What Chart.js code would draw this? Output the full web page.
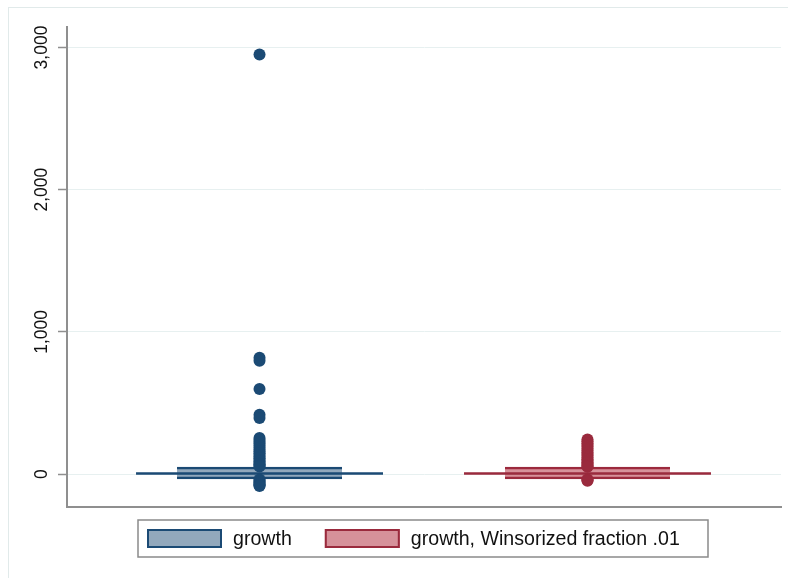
<!DOCTYPE html>
<html>
<head>
<meta charset="utf-8">
<script src="https://cdn.jsdelivr.net/npm/chart.js@4/dist/chart.umd.min.js"></script>
<style>
  html, body { margin: 0; padding: 0; background: #ffffff; overflow: hidden; }
  #wrap { position: relative; width: 788px; height: 578px; }
  #frame { position: absolute; left: 8px; top: 7px; width: 800px; height: 600px;
           border: 1px solid #e1eaea; box-sizing: border-box; }
  canvas { position: absolute; left: 0; top: 0; }
</style>
</head>
<body>
<div id="wrap">
  <div id="frame"></div>
  <canvas id="chart" width="788" height="578"></canvas>
</div>
<script>
// Series names, one box per variable
const categories = ['growth', 'growth, Winsorized fraction .01'];
// Box statistics per variable (quartiles, median, adjacent values)
const q1Values = [-34, -34];
const medianValues = [5, 5];
const q3Values = [50, 50];
const lowerAdjacent = [-36, -36];
const upperAdjacent = [52, 50];
// Outside values per variable
const outliersGrowth = [2951, 818, 797, 598, 418, 394, 254, 240, 226, 213, 199, 186, 172, 160,
  147, 135, 123, 111, 100, 89, 79, 69, 60, 53, -37, -46, -55, -63, -71, -78, -84];
const outliersWinsorized = [244, 231, 218, 205, 192, 179, 166, 153, 141, 129, 117, 105, 94,
  84, 74, 65, 57, 52, -37, -42, -46];
// Y axis tick values
const yTickValues = [0, 1000, 2000, 3000];

const outlierLists = [outliersGrowth, outliersWinsorized];
const lineColors = ['#1b4a74', '#9a2a3d'];
const fillColors = ['rgba(27,74,116,0.48)', 'rgba(176,44,62,0.52)'];
const medianHalfSpan = 0.3765;   // median line reaches past the box
const axisGray = '#8f8f8f';

const datasets = [];
categories.forEach((name, i) => {
  const pos = i + 1;
  datasets.push({
    type: 'scatter', label: name + ' outside values', order: 0,
    data: outlierLists[i].map(v => ({ x: pos, y: v })),
    pointRadius: 6, pointHoverRadius: 6, pointBorderWidth: 0,
    backgroundColor: lineColors[i], borderColor: lineColors[i]
  });
  datasets.push({
    type: 'line', label: name + ' median', order: 1,
    data: [{ x: pos - medianHalfSpan, y: medianValues[i] }, { x: pos + medianHalfSpan, y: medianValues[i] }],
    borderColor: lineColors[i], borderWidth: 2.5, pointRadius: 0, fill: false
  });
  datasets.push({
    type: 'line', label: name + ' upper whisker', order: 2,
    data: [{ x: pos, y: q3Values[i] }, { x: pos, y: upperAdjacent[i] }],
    borderColor: lineColors[i], borderWidth: 1.5, pointRadius: 0, fill: false
  });
  datasets.push({
    type: 'line', label: name + ' lower whisker', order: 2,
    data: [{ x: pos, y: q1Values[i] }, { x: pos, y: lowerAdjacent[i] }],
    borderColor: lineColors[i], borderWidth: 1.5, pointRadius: 0, fill: false
  });
  datasets.push({
    type: 'bar', label: name, order: 10, isBox: true,
    data: [{ x: pos, y: [q1Values[i], q3Values[i]] }],
    backgroundColor: fillColors[i], borderColor: lineColors[i],
    borderWidth: { top: 2, bottom: 2, left: 0, right: 0 },
    borderSkipped: false, barThickness: 165, grouped: false
  });
});

// Framed legend below the plot, built from the box datasets
const framedLegend = {
  id: 'framedLegend',
  afterDraw(chart) {
    const ctx = chart.ctx;
    const boxes = chart.data.datasets.filter(d => d.isBox);
    const box = { left: 138, top: 520, width: 570, height: 37 };
    ctx.save();
    ctx.strokeStyle = '#8a8a8a';
    ctx.lineWidth = 1.5;
    ctx.strokeRect(box.left, box.top, box.width, box.height);
    ctx.font = '19.6px "Liberation Sans", Arial, sans-serif';
    ctx.textBaseline = 'middle';
    const swW = 75, swH = 19, gapText = 11, gapItem = 33;
    let x = box.left + 9;
    const cy = box.top + box.height / 2;
    boxes.forEach(d => {
      ctx.fillStyle = d.backgroundColor;
      ctx.fillRect(x, cy - swH / 2, swW, swH);
      ctx.strokeStyle = d.borderColor;
      ctx.lineWidth = 2;
      ctx.strokeRect(x + 1, cy - swH / 2 + 1, swW - 2, swH - 2);
      x += swW + gapText;
      ctx.fillStyle = '#111111';
      ctx.fillText(d.label, x, cy + 1);
      x += ctx.measureText(d.label).width + gapItem;
    });
    ctx.restore();
  }
};

new Chart(document.getElementById('chart'), {
  type: 'bar',
  data: { datasets },
  plugins: [framedLegend],
  options: {
    responsive: false,
    animation: false,
    layout: { padding: { left: 0, top: 27, right: 7, bottom: 71 } },
    plugins: { legend: { display: false }, tooltip: { enabled: false } },
    scales: {
      x: {
        type: 'linear', min: 0.413, max: 2.59, offset: false,
        ticks: { display: false },
        grid: { display: false, drawTicks: false },
        border: { display: true, color: axisGray, width: 2 }
      },
      y: {
        type: 'linear', min: -231, max: 3144,
        afterBuildTicks: s => { s.ticks = yTickValues.map(v => ({ value: v })); },
        afterFit: s => { s.width = 67; },
        ticks: {
          minRotation: 90, maxRotation: 90, crossAlign: 'center', padding: -6.5,
          color: '#111111',
          font: { family: '"Liberation Sans", Arial, sans-serif', size: 17.5 },
          callback: v => v.toLocaleString('en-US')
        },
        grid: { color: '#e7f0f0', lineWidth: 1, tickColor: axisGray, tickLength: 9, tickWidth: 1.5 },
        border: { display: true, color: axisGray, width: 2 }
      }
    }
  }
});
</script>
</body>
</html>
